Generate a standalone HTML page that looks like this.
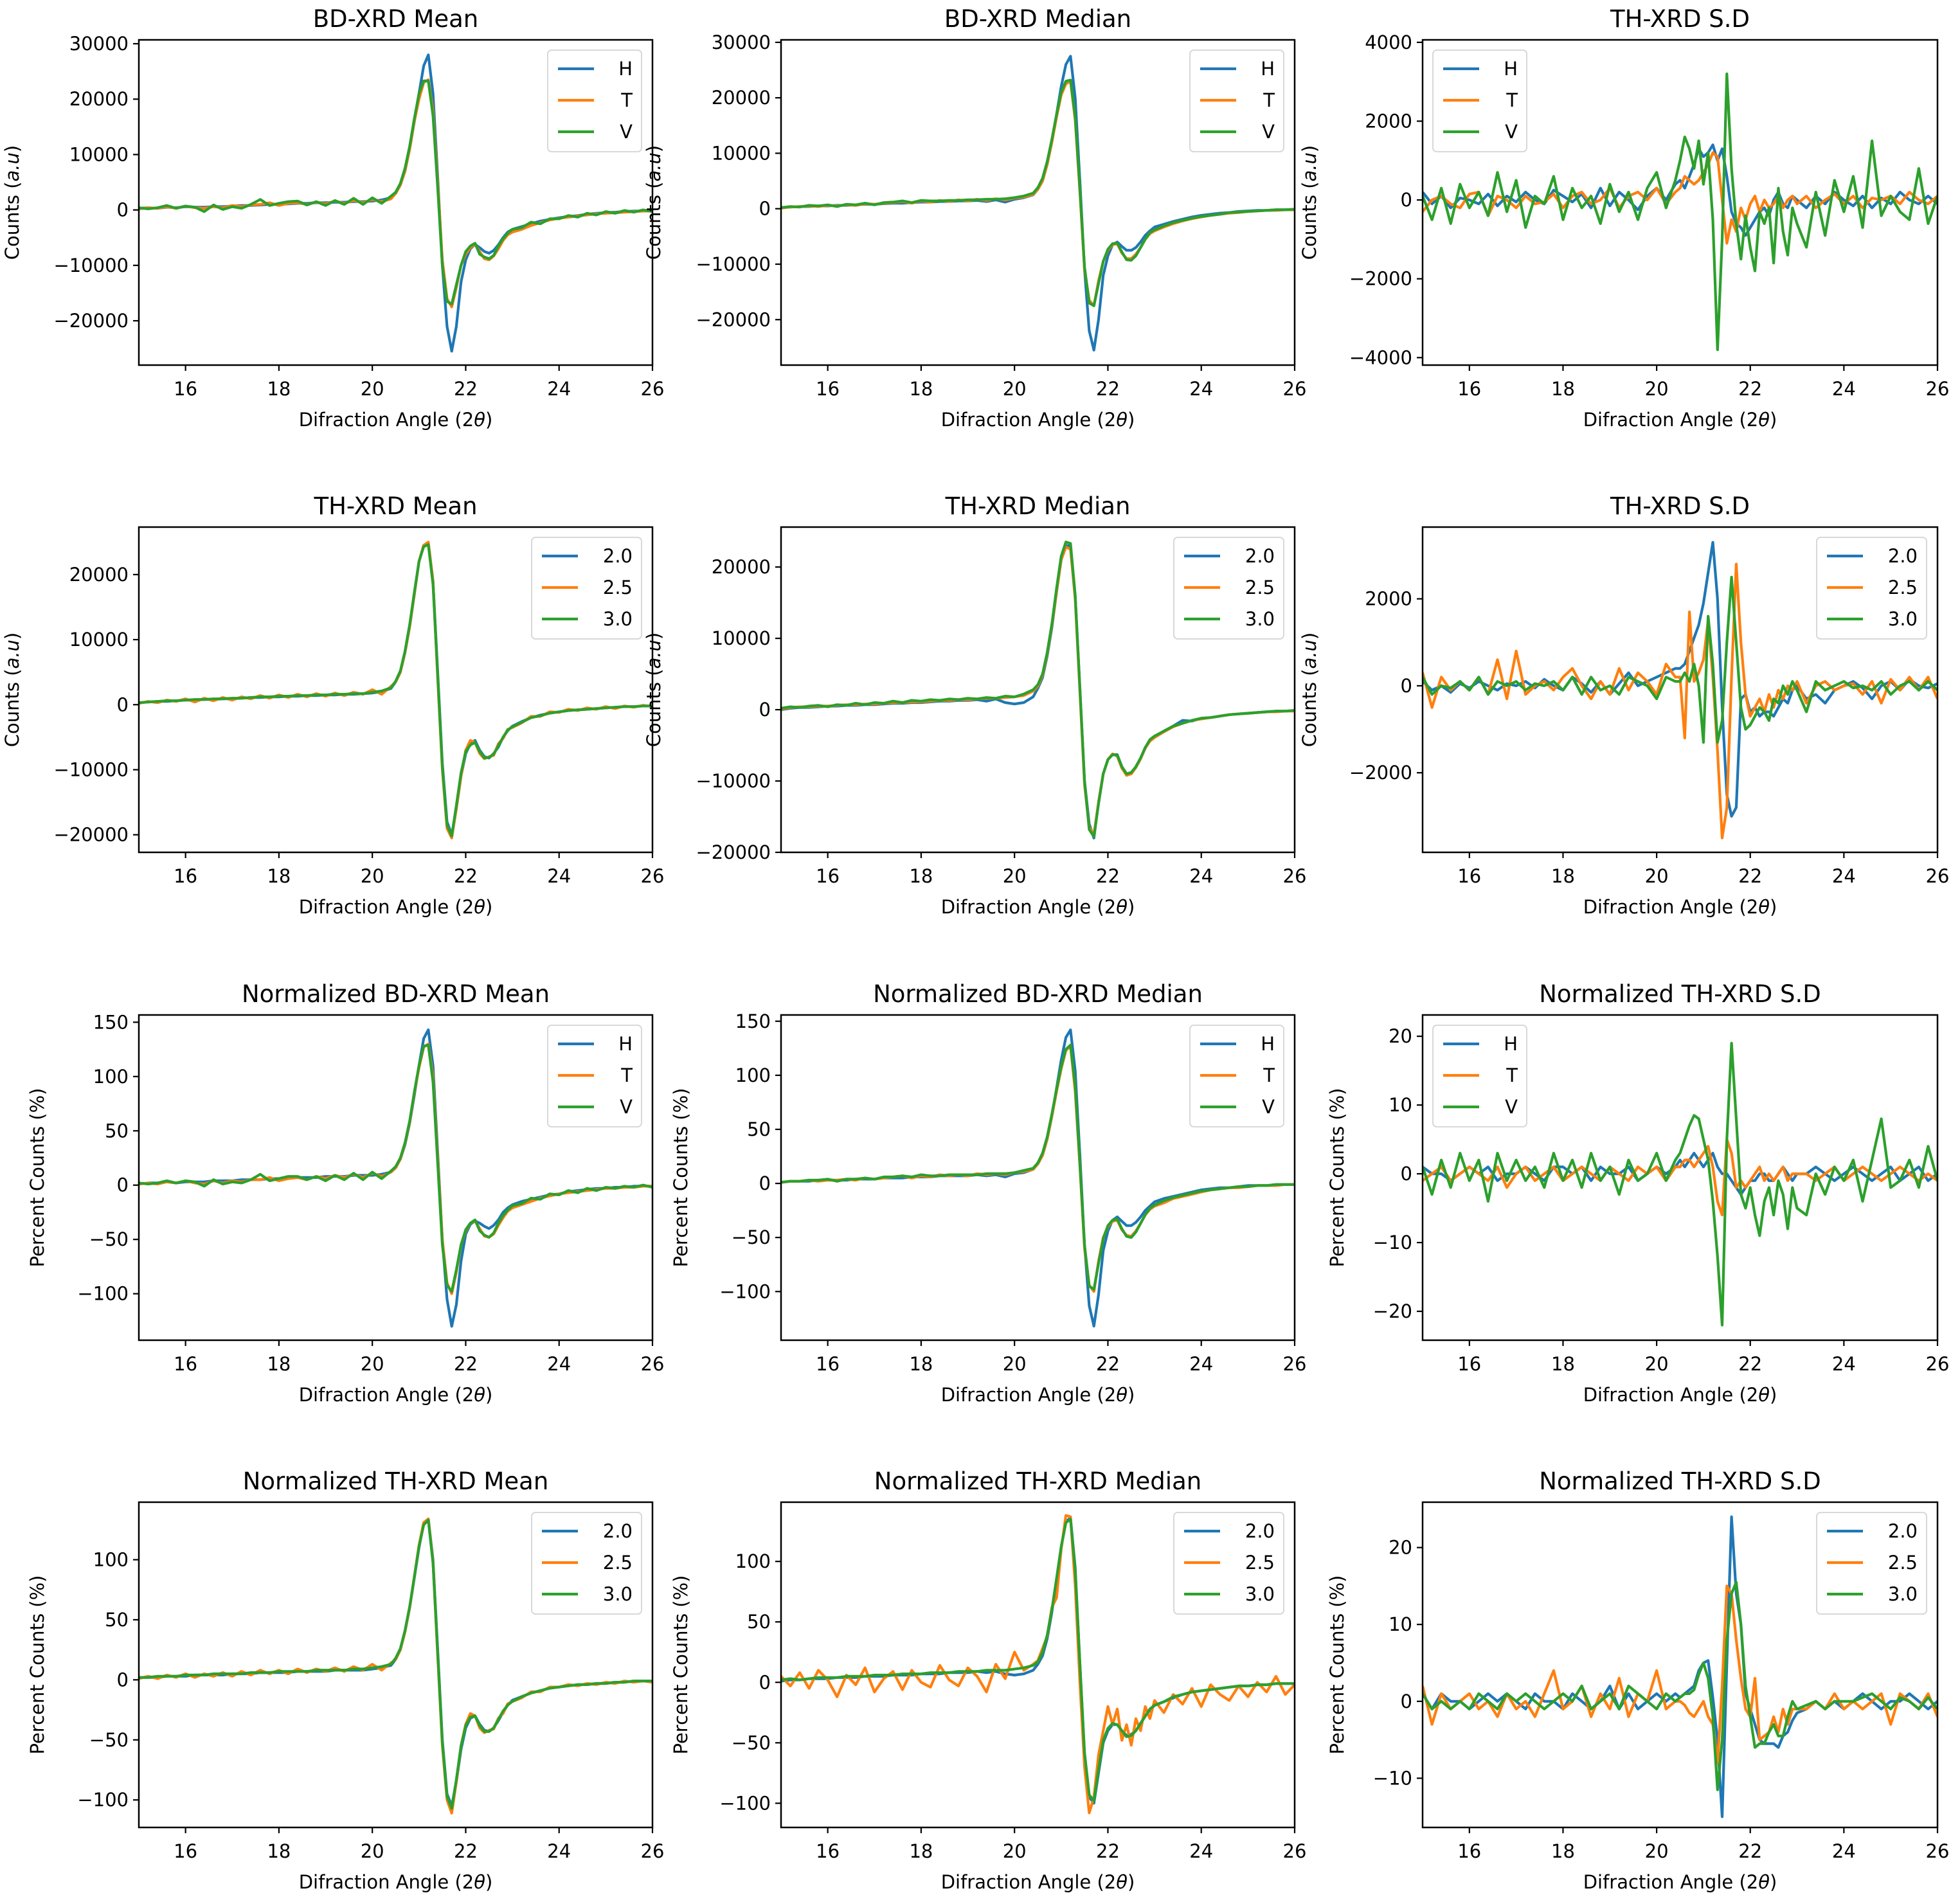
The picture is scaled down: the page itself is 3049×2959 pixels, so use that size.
<!DOCTYPE html>
<html><head><meta charset="utf-8">
<style>
html,body{margin:0;padding:0;background:#fff;}
svg{display:block;font-family:"DejaVu Sans","Liberation Sans",sans-serif;}
</style></head>
<body>
<svg id="fig" width="3049" height="2959" viewBox="0 0 3049 2959" xmlns="http://www.w3.org/2000/svg"></svg>
<script>
// shared x grid (diffraction angle, 2θ)
const xs = [15,15.2,15.4,15.6,15.8,16,16.2,16.4,16.6,16.8,17,17.2,17.4,17.6,17.8,18,18.2,18.4,18.6,18.8,19,19.2,19.4,19.6,19.8,20,20.2,20.4,
20.5,20.6,20.7,20.8,20.9,21,21.1,21.2,21.3,21.4,21.5,21.6,21.7,21.8,21.9,22,22.1,22.2,22.3,22.4,22.5,22.6,22.7,22.8,22.9,23,
23.2,23.4,23.6,23.8,24,24.2,24.4,24.6,24.8,25,25.2,25.4,25.6,25.8,26];
const xTicks = [16,18,20,22,24,26];
const xTickLabels = ["16","18","20","22","24","26"];

// Panel 1 BD-XRD Mean (thousands of counts)
const p1H = [0.3,0.4,0.3,0.5,0.4,0.6,0.5,0.5,0.6,0.6,0.7,0.8,0.8,0.9,1.0,1.0,1.1,1.2,1.2,1.3,1.3,1.4,1.4,1.5,1.5,1.6,1.8,2.2,
3,4.5,7,11,16,21,26,28,21,6,-10,-21,-25.5,-21,-13,-9,-7,-6.2,-6.8,-7.5,-7.8,-7.3,-6.3,-5,-4,-3.5,
-3,-2.5,-2,-1.7,-1.4,-1.2,-1,-0.8,-0.6,-0.5,-0.4,-0.3,-0.2,-0.2,-0.1];
const p1T = [0.2,0.4,0.3,0.6,0.3,0.7,0.4,0.3,0.6,0.4,0.8,0.6,0.9,1.0,1.3,0.8,1.2,1.3,1.0,1.4,1.1,1.6,1.2,1.7,1.3,1.9,1.5,2.0,
3,4.5,7,11,16,20,23,23.5,18,5,-9,-16,-17.5,-14,-10,-8,-6.8,-6.2,-7.5,-8.8,-9,-8.3,-7,-5.5,-4.5,-4,
-3.5,-2.8,-2.3,-1.8,-1.5,-1.3,-1.1,-0.9,-0.7,-0.6,-0.5,-0.4,-0.3,-0.2,-0.2];
const p1V = [0.4,0.2,0.4,0.8,0.3,0.7,0.5,-0.3,0.9,0.1,0.6,0.3,1.0,1.9,0.8,1.2,1.5,1.6,0.9,1.5,0.8,1.7,1.0,2.1,1.0,2.2,1.2,2.5,
3.2,4.8,7.5,11.5,16.5,21,23.3,23.3,17,4,-10,-16.5,-17,-13.5,-10,-7.5,-6.5,-6,-8,-8.5,-8.8,-8.2,-6.5,-5.2,-4.2,-3.5,
-3.2,-2.2,-2.5,-1.6,-1.6,-1.0,-1.3,-0.6,-0.9,-0.3,-0.6,-0.1,-0.4,0,-0.3];

// Panel 2 BD-XRD Median (thousands)
const p2H = [0.2,0.3,0.4,0.4,0.5,0.5,0.6,0.6,0.7,0.8,0.8,0.9,1.0,1.0,1.1,1.2,1.2,1.3,1.3,1.4,1.4,1.5,1.3,1.6,1.2,1.7,2.0,2.5,
3.5,5,8,12,17,22,26,27.5,20,5,-11,-22,-25.5,-20,-12,-8.5,-6.5,-6,-6.8,-7.5,-7.5,-7,-6,-4.8,-4,-3.3,
-2.8,-2.3,-1.9,-1.5,-1.2,-1,-0.8,-0.7,-0.5,-0.4,-0.3,-0.3,-0.2,-0.2,-0.1];
const p2T = [0.1,0.3,0.4,0.5,0.4,0.6,0.5,0.7,0.6,0.9,0.8,1.0,1.1,1.3,1.0,1.4,1.2,1.5,1.3,1.6,1.4,1.7,1.5,1.8,1.6,1.9,2.1,2.6,
3.5,5,8,12,16.5,20.5,22.5,23,16,3,-11,-16.5,-17.5,-13,-9.5,-7.5,-6.5,-6.3,-8,-9,-9,-8.2,-7,-5.5,-4.5,-4,
-3.3,-2.7,-2.2,-1.8,-1.5,-1.2,-1,-0.8,-0.7,-0.5,-0.4,-0.3,-0.3,-0.2,-0.2];
const p2V = [0.2,0.4,0.3,0.6,0.5,0.7,0.4,0.8,0.7,1.0,0.7,1.1,1.2,1.4,1.1,1.5,1.4,1.4,1.5,1.5,1.6,1.6,1.7,1.7,1.8,2.0,2.3,2.8,
3.8,5.5,8.5,12.5,17,21,23,23.2,16.5,3.5,-10.5,-17,-17.5,-13.5,-9.5,-7.3,-6.3,-6.2,-7.8,-9.2,-9.3,-8.5,-7,-5.5,-4.3,-3.8,
-3.1,-2.5,-2.1,-1.7,-1.4,-1.2,-1,-0.7,-0.6,-0.5,-0.4,-0.3,-0.2,-0.2,-0.1];

// Panel 3 TH-XRD S.D (counts)
const p3H = [200,-100,100,-200,50,0,-100,150,-150,100,-50,200,0,-100,250,100,-50,150,-200,300,-150,200,0,-250,100,300,0,400,
500,300,600,900,1300,1100,1200,1400,1000,1300,600,-300,-600,-700,-900,-700,-500,-300,-200,-400,0,200,-100,-200,100,0,
-200,100,-100,200,0,-150,100,-200,50,-100,200,0,-100,100,-100];
const p3T = [-300,0,100,-100,-200,150,200,-400,100,0,-200,100,-100,-50,150,-200,100,200,-100,0,300,-200,100,200,0,300,-100,200,
300,600,500,400,500,700,900,1200,1100,0,-1100,-500,-800,-200,-500,-100,100,-300,0,-200,-100,100,-200,0,100,-100,
100,-200,0,150,-100,100,-200,50,0,100,-100,200,0,-100,100];
const p3V = [100,-500,300,-600,400,-200,200,-400,700,-300,500,-700,100,-100,600,-500,300,-200,100,-600,400,-300,200,-500,300,700,-200,500,
1000,1600,1300,800,1500,400,1200,-500,-3800,-1000,3200,800,-600,-1500,-400,-1200,-1800,-300,-600,-200,-1600,300,-800,-1400,-200,-600,
-1200,200,-900,500,-300,600,-700,1500,-400,100,-300,-500,800,-600,100];

// Panel 4 TH-XRD Mean (thousands)
const p4a = [0.3,0.4,0.5,0.5,0.6,0.7,0.7,0.8,0.8,0.9,0.9,1.0,1.1,1.1,1.2,1.2,1.3,1.3,1.4,1.4,1.5,1.5,1.6,1.6,1.7,1.8,2.0,2.5,
3.5,5,8,12,17,22,24.5,24.8,19,5,-9,-18,-20,-16,-11,-7.5,-6,-5.5,-7,-8,-8.2,-7.5,-6.5,-5,-4,-3.3,
-2.6,-2,-1.6,-1.3,-1.1,-0.9,-0.8,-0.7,-0.6,-0.5,-0.4,-0.3,-0.3,-0.2,-0.2];
const p4b = [0.2,0.5,0.3,0.7,0.5,0.9,0.4,1.0,0.6,1.1,0.7,1.2,0.9,1.4,1.0,1.5,1.1,1.6,1.2,1.7,1.3,1.8,1.4,1.9,1.6,2.3,1.6,2.8,
3.5,5,8,12,17,22,24.5,25,19,4,-10,-19,-20.5,-16,-11,-7,-5.5,-5.8,-7.5,-8.3,-8,-7.8,-6,-5.2,-3.8,-3.5,
-2.8,-1.8,-1.8,-1.1,-1.2,-0.7,-0.9,-0.5,-0.7,-0.3,-0.6,-0.2,-0.4,-0.1,-0.3];
const p4c = [0.3,0.4,0.5,0.6,0.6,0.7,0.8,0.8,0.9,0.9,1.0,1.0,1.1,1.2,1.2,1.3,1.3,1.4,1.4,1.5,1.5,1.6,1.6,1.7,1.7,1.9,2.1,2.6,
3.6,5.2,8.2,12.3,17.3,22,24.3,24.6,18.5,4.5,-9.5,-18.5,-20.2,-15.5,-10.5,-7.2,-6.2,-5.8,-7.2,-8.2,-8.1,-7.6,-6.3,-5,-3.9,-3.4,
-2.7,-2,-1.7,-1.3,-1.1,-0.9,-0.8,-0.7,-0.6,-0.5,-0.4,-0.3,-0.3,-0.2,-0.2];

// Panel 5 TH-XRD Median (thousands)
const p5a = [0.0,0.2,0.3,0.3,0.4,0.5,0.5,0.6,0.6,0.7,0.7,0.8,0.9,0.9,1.0,1.0,1.1,1.2,1.2,1.3,1.3,1.4,1.2,1.5,1.0,0.8,1.0,1.8,
3,4.5,7.5,11.5,16.5,21,23,23,16,3,-10,-16,-18,-13,-9,-7,-6.3,-6.3,-8,-9,-9,-8,-6.8,-5.3,-4.3,-3.8,
-3,-2.3,-1.5,-1.6,-1.2,-1.1,-0.9,-0.7,-0.6,-0.5,-0.4,-0.3,-0.2,-0.2,-0.1];
const p5b = [0.1,0.3,0.4,0.4,0.5,0.5,0.6,0.7,0.7,0.8,0.8,0.9,1.0,1.0,1.1,1.1,1.2,1.3,1.3,1.4,1.4,1.5,1.6,1.6,1.7,1.8,2.0,2.6,
3.3,4.8,7.8,11.8,16.5,21,22.8,22.5,15.5,2.5,-10.5,-16.5,-17.5,-13,-9,-7,-6.2,-6.5,-8.2,-9.2,-9,-8.1,-6.9,-5.4,-4.4,-3.9,
-3.1,-2.4,-1.9,-1.5,-1.3,-1.1,-0.9,-0.7,-0.6,-0.5,-0.4,-0.3,-0.3,-0.2,-0.2];
const p5c = [0.2,0.4,0.3,0.5,0.6,0.4,0.7,0.6,0.9,0.7,1.0,0.9,1.2,1.0,1.3,1.2,1.4,1.3,1.5,1.4,1.6,1.5,1.7,1.6,1.9,1.8,2.2,2.8,
3.5,5,8,12,17,21.5,23.5,23.3,16,3,-10,-16.8,-17.8,-13.2,-9,-7,-6.3,-6.4,-8,-9,-8.8,-8,-6.8,-5.3,-4.2,-3.7,
-3,-2.3,-1.9,-1.5,-1.2,-1.1,-0.9,-0.7,-0.6,-0.5,-0.4,-0.3,-0.2,-0.2,-0.1];

// Panel 6 TH-XRD S.D (counts)
const p6a = [100,-100,0,-150,50,-50,100,0,-100,50,0,100,-50,150,0,-100,200,50,-150,100,-200,50,300,0,100,200,300,400,
400,500,800,1100,1400,1900,2600,3300,2000,-500,-2500,-3000,-2800,-300,-200,-600,-500,-700,-600,-600,-700,-500,-300,-400,-100,0,
-300,-200,-400,-100,0,100,-50,-300,0,100,-100,150,0,-50,50];
const p6b = [300,-500,200,-100,100,-100,200,-200,600,-300,800,-200,0,100,-100,200,400,0,-300,100,-200,400,-100,300,100,-200,500,200,
200,-1200,1700,100,300,600,1500,200,-1500,-3500,-2800,200,2800,1000,-200,-700,-500,-300,-600,-200,-500,-100,-300,0,-100,100,
-400,0,100,-100,0,50,-200,100,-400,150,-100,200,-100,200,-300];
const p6c = [200,-200,0,-50,100,-100,200,-200,100,0,100,-100,50,0,100,-100,200,-200,200,-100,0,-200,200,100,0,-300,200,100,
100,300,100,500,0,-1300,1600,500,-1300,-800,1000,2500,1000,-500,-1000,-900,-700,-500,-600,-800,-300,-400,0,-200,100,-100,
-600,100,-100,0,100,-50,0,-100,100,-200,0,100,-100,100,-100];

// Panel 7 Normalized BD-XRD Mean (%)
const p7H = [1,2,2,3,2,3,3,3,4,4,4,5,5,5,6,6,6,7,7,7,8,8,8,9,9,9,10,12,
16,24,37,57,83,110,135,143,110,30,-50,-105,-130,-110,-70,-45,-36,-33,-35,-38,-40,-37,-32,-25,-21,-18,
-15,-13,-11,-9,-8,-6,-5,-4,-3,-3,-2,-2,-1,-1,-1];
const p7T = [1,2,1,3,2,4,2,1,4,2,4,3,5,5,7,4,6,7,5,8,6,9,7,10,7,11,8,12,
16,24,38,58,85,108,127,130,100,25,-50,-90,-100,-80,-55,-42,-35,-33,-40,-47,-48,-45,-37,-30,-24,-21,
-18,-15,-12,-10,-8,-7,-6,-5,-4,-3,-3,-2,-2,-1,-1];
const p7V = [2,1,2,4,2,4,3,-1,5,1,3,2,5,10,4,6,8,8,5,8,4,9,5,11,5,12,6,13,
17,25,39,59,86,110,128,129,95,20,-55,-92,-98,-78,-55,-41,-35,-32,-42,-46,-48,-44,-35,-28,-23,-19,
-17,-12,-13,-8,-9,-5,-7,-3,-5,-2,-3,-1,-2,0,-2];

// Panel 8 Normalized BD-XRD Median (%)
const p8H = [1,2,2,2,3,3,3,3,4,4,4,5,5,5,6,6,6,7,7,7,7,8,7,8,6,9,10,13,
18,26,41,62,88,114,135,142,104,26,-57,-113,-132,-103,-62,-44,-34,-31,-35,-39,-39,-36,-31,-25,-21,-17,
-14,-12,-10,-8,-6,-5,-4,-4,-3,-2,-2,-2,-1,-1,-1];
const p8T = [1,2,2,3,2,3,3,4,3,5,4,5,6,7,5,7,6,8,7,8,7,9,8,9,8,10,11,13,
18,26,41,62,85,106,123,127,85,16,-60,-94,-100,-72,-50,-40,-35,-34,-43,-48,-49,-44,-37,-29,-24,-21,
-18,-14,-12,-10,-8,-6,-5,-4,-4,-3,-2,-2,-2,-1,-1];
const p8V = [1,2,2,3,3,4,2,4,4,5,4,6,6,7,6,8,7,7,8,8,8,8,9,9,9,10,12,14,
19,28,43,64,87,108,124,128,90,18,-57,-95,-98,-74,-51,-39,-34,-33,-42,-49,-50,-45,-37,-29,-23,-20,
-16,-13,-11,-9,-7,-6,-5,-4,-3,-3,-2,-2,-1,-1,-1];

// Panel 9 Normalized TH-XRD S.D (%)
const p9H = [1,0,0,-1,0,1,0,1,-1,0,0,1,0,-1,1,1,0,1,-1,1,0,0,1,-1,0,1,0,1,
2,1,2,3,2,1,2,3,1,0,0,-1,-2,-3,-2,-1,-1,0,0,-1,-1,0,1,0,-1,0,
0,1,0,-1,0,1,0,-1,0,1,-1,0,1,-1,0];
const p9T = [-1,0,1,-1,0,1,0,-1,1,-2,0,1,-1,0,1,-1,0,1,0,-1,1,0,-1,1,0,1,-1,1,
1,2,2,1,2,3,4,1,-4,-6,5,3,-2,-1,-2,-1,0,1,-1,0,-1,0,1,-1,0,0,
0,-1,0,1,-1,0,1,0,-1,0,1,0,-1,0,-1];
const p9V = [1,-3,2,-2,3,-1,2,-4,3,-1,2,-1,1,-2,3,-1,2,-2,3,-1,1,-3,2,-1,0,3,-1,2,
3,5,7,8.5,8,5,2,-4,-12,-22,5,19,8,-3,-5,-2,-6,-9,-4,-2,-6,-1,-3,-8,-2,-5,
-6,0,-3,1,-1,2,-4,2,8,-2,-1,2,-2,4,-1];

// Panel 10 Normalized TH-XRD Mean (%)
const p10a = [2,2,2,3,3,3,4,4,4,4,5,5,5,6,6,6,6,7,7,7,7,8,8,8,8,9,10,12,
17,25,40,60,85,110,130,134,100,25,-50,-95,-105,-85,-58,-40,-32,-30,-37,-42,-43,-40,-34,-27,-21,-17,
-14,-11,-9,-7,-6,-5,-4,-4,-3,-3,-2,-2,-1,-1,-1];
const p10b = [1,3,1,4,2,5,2,5,3,6,3,7,4,8,5,8,5,9,6,9,7,10,7,11,8,13,8,14,
17,25,40,60,86,112,131,134,98,20,-55,-100,-111,-85,-55,-37,-28,-30,-40,-44,-42,-41,-32,-28,-20,-18,
-15,-10,-10,-6,-6,-4,-5,-3,-4,-2,-3,-1,-2,-1,-2];
const p10c = [2,2,3,3,3,4,4,4,5,5,5,5,6,6,6,7,7,7,7,8,8,8,8,9,9,10,11,13,
18,26,41,61,86,111,129,133,97,22,-52,-97,-107,-83,-55,-38,-31,-30,-38,-43,-43,-40,-33,-26,-21,-18,
-14,-11,-9,-7,-6,-5,-4,-4,-3,-3,-2,-2,-1,-1,-1];

// Panel 11 Normalized TH-XRD Median (%)
const p11a = [1,2,2,3,3,3,4,4,4,5,5,5,6,6,6,7,7,7,8,8,8,9,8,9,7,6,7,10,
15,22,36,58,85,112,133,136,95,15,-60,-95,-100,-75,-50,-40,-35,-35,-40,-44,-43,-40,-34,-28,-23,-19,
-16,-13,-10,-8,-7,-6,-5,-4,-3,-3,-2,-2,-1,-1,-1];
const p11b = [5,-3,8,-5,10,2,-12,6,-2,12,-8,3,9,-6,10,0,-4,14,2,-3,12,5,-8,15,3,25,10,15,
18,28,38,62,70,110,138,137,80,0,-70,-108,-95,-60,-40,-20,-35,-22,-48,-35,-52,-30,-40,-20,-30,-15,
-25,-10,-18,-5,-20,-2,-10,-15,-3,-12,0,-8,5,-10,-2];
const p11c = [2,3,2,3,4,4,4,5,5,5,6,6,6,7,7,7,8,8,8,9,9,9,10,10,10,11,12,14,
17,25,39,60,86,112,132,135,93,16,-58,-93,-98,-72,-48,-38,-34,-35,-40,-45,-44,-40,-34,-28,-22,-19,
-16,-12,-10,-8,-7,-6,-5,-4,-3,-3,-2,-2,-1,-1,-1];

// Panel 12 Normalized TH-XRD S.D (%)
const p12a = [1,-1,1,0,0,-1,0,1,0,1,0,-1,1,0,0,-1,1,0,-1,0,2,-1,1,-1,0,1,0,1,
0.5,1,1.5,2,4,5,5.3,0.5,-5,-15,5,24,14,10,1,-1,-3,-5,-5.5,-5.5,-5.5,-6,-4.5,-4,-2.5,-1.5,
-1,0,-1,0,-1,0,1,0,-1,0,0,1,0,-1,0];
const p12b = [2,-3,1,-1,0,1,-1,0,-2,1,-1,0,-2,1,4,-1,0,2,-2,1,-1,3,-2,1,0,4,-1,0,
0,-0.5,-1.5,-2,-1,0,-2,-3,-8,2,15,14,8,3,-1,-2,3,-5,-4.5,-4,-2,-4,-1,-3,-1,-1,
-1,0,-1,1,-1,0,-1,0,1,-3,1,0,-1,1,-2];
const p12c = [1,-1,0,-1,0,-1,1,0,-1,1,0,1,0,-1,0,1,0,2,-1,0,1,-1,2,1,0,-1,1,0,
0.5,1,1,1.5,3.5,5,3,-2,-11.5,-5,8,14,15.5,10,2,-2,-6,-5.5,-5.5,-4,-3,-4.5,-4.5,-2,0,-1,
-0.5,0,-1,0,0,0,0.5,1,0,-1,0.5,0,-1,0.5,-1];

// y-axis ticks per panel
const yt1 = [-20,-10,0,10,20,30], yl1 = ["−20000","−10000","0","10000","20000","30000"];
const yt3 = [-4000,-2000,0,2000,4000], yl3 = ["−4000","−2000","0","2000","4000"];
const yt4 = [-20,-10,0,10,20], yl4 = ["−20000","−10000","0","10000","20000"];
const yt6 = [-2000,0,2000], yl6 = ["−2000","0","2000"];
const yt7 = [-100,-50,0,50,100,150], yl7 = ["−100","−50","0","50","100","150"];
const yt9 = [-20,-10,0,10,20], yl9 = ["−20","−10","0","10","20"];
const yt10 = [-100,-50,0,50,100], yl10 = ["−100","−50","0","50","100"];
const yt12 = [-10,0,10,20], yl12 = ["−10","0","10","20"];
const labHTV = ["H","T","V"], labNum = ["2.0","2.5","3.0"];
const colors = ["#1f77b4","#ff7f0e","#2ca02c"];

const colX = [216,1215,2213], colW = [799,799,801];
const rowY = [62,820,1579,2337], rowH = 506;
const CNT = "counts", PCT = "percent";

const panels = [
 {t:"BD-XRD Mean",r:0,c:0,y0:-28,y1:30.7,ticks:yt1,tl:yl1,s:[p1H,p1T,p1V],lab:labHTV,lr:true,yl:CNT,ly:187},
 {t:"BD-XRD Median",r:0,c:1,y0:-28.2,y1:30.45,ticks:yt1,tl:yl1,s:[p2H,p2T,p2V],lab:labHTV,lr:true,yl:CNT,ly:188},
 {t:"TH-XRD S.D",r:0,c:2,y0:-4190,y1:4063,ticks:yt3,tl:yl3,s:[p3H,p3T,p3V],lab:labHTV,lr:false,yl:CNT,ly:166},
 {t:"TH-XRD Mean",r:1,c:0,y0:-22.7,y1:27.3,ticks:yt4,tl:yl4,s:[p4a,p4b,p4c],lab:labNum,lr:true,yl:CNT,ly:187},
 {t:"TH-XRD Median",r:1,c:1,y0:-20,y1:25.6,ticks:yt4,tl:yl4,s:[p5a,p5b,p5c],lab:labNum,lr:true,yl:CNT,ly:188},
 {t:"TH-XRD S.D",r:1,c:2,y0:-3830,y1:3650,ticks:yt6,tl:yl6,s:[p6a,p6b,p6c],lab:labNum,lr:true,yl:CNT,ly:166},
 {t:"Normalized BD-XRD Mean",r:2,c:0,y0:-142.8,y1:156.7,ticks:yt7,tl:yl7,s:[p7H,p7T,p7V],lab:labHTV,lr:true,yl:PCT,ly:148},
 {t:"Normalized BD-XRD Median",r:2,c:1,y0:-145,y1:155.8,ticks:yt7,tl:yl7,s:[p8H,p8T,p8V],lab:labHTV,lr:true,yl:PCT,ly:146},
 {t:"Normalized TH-XRD S.D",r:2,c:2,y0:-24.2,y1:23.1,ticks:yt9,tl:yl9,s:[p9H,p9T,p9V],lab:labHTV,lr:false,yl:PCT,ly:123},
 {t:"Normalized TH-XRD Mean",r:3,c:0,y0:-122.9,y1:147.9,ticks:yt10,tl:yl10,s:[p10a,p10b,p10c],lab:labNum,lr:true,yl:PCT,ly:148},
 {t:"Normalized TH-XRD Median",r:3,c:1,y0:-120,y1:149,ticks:yt10,tl:yl10,s:[p11a,p11b,p11c],lab:labNum,lr:true,yl:PCT,ly:146},
 {t:"Normalized TH-XRD S.D",r:3,c:2,y0:-16.4,y1:25.9,ticks:yt12,tl:yl12,s:[p12a,p12b,p12c],lab:labNum,lr:true,yl:PCT,ly:123}
];

const NS = "http://www.w3.org/2000/svg";
const fig = document.getElementById("fig");
function mk(tag, attrs, parent){
  const e = document.createElementNS(NS, tag);
  for (const k in attrs) e.setAttribute(k, attrs[k]);
  parent.appendChild(e);
  return e;
}

panels.forEach((p, pi) => {
  const L = colX[p.c], W = colW[p.c], T = rowY[p.r], H = rowH;
  const sx = v => L + (v - 15) / 11 * W;
  const sy = v => T + H - (v - p.y0) / (p.y1 - p.y0) * H;
  const g = mk("g", {}, fig);
  
  

  const title = mk("text", {x: L + W/2, y: T - 20, "text-anchor":"middle", "font-size":"37"}, g);
  title.textContent = p.t;
  
  

  // clip
  const cp = mk("clipPath", {id:"cp"+pi}, g);
  mk("rect", {x:L, y:T, width:W, height:H}, cp);

  // series
  p.s.forEach((arr, si) => {
    let d = "";
    arr.forEach((v, i) => { d += (i ? "L" : "M") + sx(xs[i]).toFixed(1) + "," + sy(v).toFixed(1); });
    const path = mk("path", {d:d, fill:"none", stroke:colors[si], "stroke-width":"4.2", "stroke-linejoin":"round", "clip-path":"url(#cp"+pi+")"}, g);
    
    
  });

  // frame
  const fr = mk("rect", {x:L, y:T, width:W, height:H, fill:"none", stroke:"#000", "stroke-width":"2.5"}, g);
  
  

  // x ticks
  xTicks.forEach((v, i) => {
    const x = sx(v);
    mk("line", {x1:x, y1:T+H, x2:x, y2:T+H+9, stroke:"#000", "stroke-width":"2.2"}, g);
    const t = mk("text", {x:x, y:T+H+47, "text-anchor":"middle", "font-size":"29"}, g);
    t.textContent = xTickLabels[i];
    
    
  });
  const xl = mk("text", {x:L + W/2, y:T+H+95, "text-anchor":"middle", "font-size":"29"}, g);
  xl.innerHTML = 'Difraction Angle (2<tspan font-style="italic">θ</tspan>)';
  
  

  // y ticks
  p.ticks.forEach((v, i) => {
    const y = sy(v);
    mk("line", {x1:L-9, y1:y, x2:L, y2:y, stroke:"#000", "stroke-width":"2.2"}, g);
    const t = mk("text", {x:L-16, y:y+10, "text-anchor":"end", "font-size":"29"}, g);
    t.textContent = p.tl[i];
    
    
  });
  const yx = L - p.ly, yc = T + H/2;
  const ylab = mk("text", {x:yx, y:yc, "text-anchor":"middle", "font-size":"29", transform:"rotate(-90 "+yx+" "+yc+")"}, g);
  ylab.innerHTML = p.yl === CNT ? 'Counts (<tspan font-style="italic">a.u</tspan>)' : 'Percent Counts (%)';
  
  

  // legend
  const lw = p.lab === labHTV ? 146 : 171;
  const lx = p.lr ? L + W - 17 - lw : L + 16;
  const ly = T + 16;
  const lg = mk("g", {}, g);
  
  
  mk("rect", {x:lx, y:ly, width:lw, height:158, rx:6, fill:"#fff", "fill-opacity":"0.8", stroke:"#d8d8d8", "stroke-width":"2"}, lg);
  p.lab.forEach((lab, i) => {
    const yy = ly + 29 + i*49;
    const ln = mk("line", {x1:lx+16, y1:yy, x2:lx+72, y2:yy, stroke:colors[i], "stroke-width":"4.2"}, lg);
    
    
    const tx = mk("text", {x:lx+ lw - 14, y:yy+10, "text-anchor":"end", "font-size":"29"}, lg);
    tx.textContent = lab;
    
    
  });
});
</script>
</body></html>
